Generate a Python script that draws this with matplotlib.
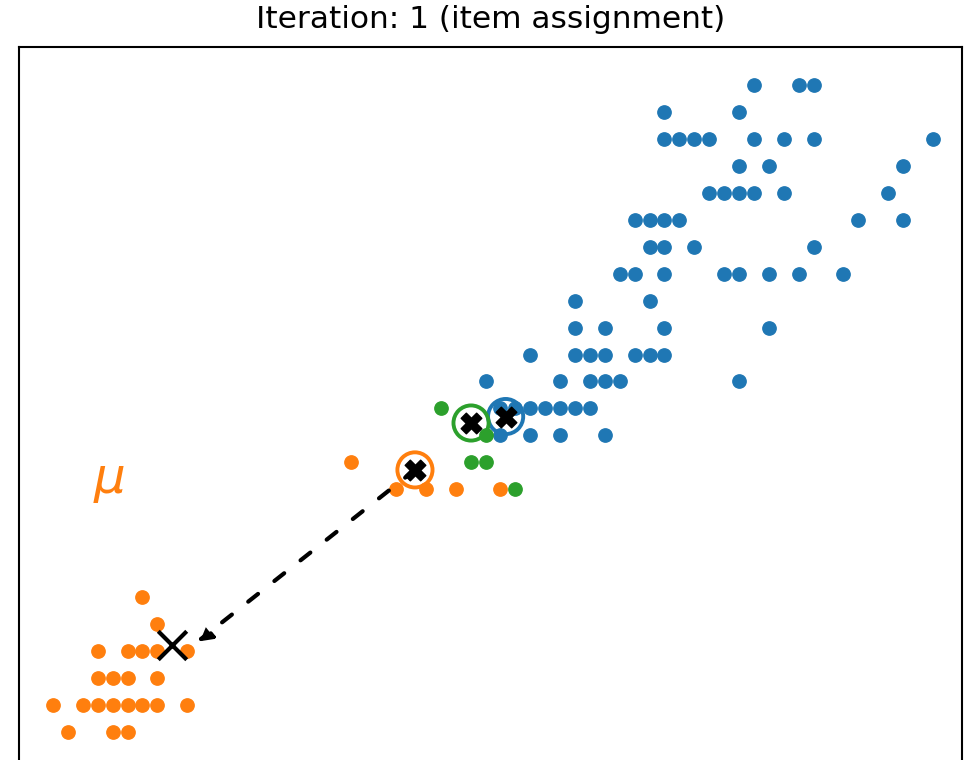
import matplotlib.pyplot as plt

# petal length / petal width of the iris samples, grouped by current cluster
blue_x = [5.7, 6.0, 6.1,
          5.1, 5.6,
          5.1, 5.2, 5.3, 5.4, 5.7, 5.9, 6.1, 6.9,
          5.6, 5.8, 6.7,
          5.4, 5.5, 5.6, 5.7, 5.9, 6.6,
          4.9, 5.0, 5.1, 5.2, 6.4, 6.7,
          5.0, 5.1, 5.3, 6.1,
          4.8, 4.9, 5.1, 5.5, 5.6, 5.8, 6.0, 6.3,
          4.5, 5.0,
          4.5, 4.7, 5.1, 5.8,
          4.2, 4.5, 4.6, 4.7, 4.9, 5.0, 5.1,
          3.9, 4.4, 4.6, 4.7, 4.8, 5.6,
          4.0, 4.1, 4.2, 4.3, 4.4, 4.5, 4.6,
          4.0, 4.2, 4.4, 4.7]
blue_y = [2.5] * 3 + [2.4] * 2 + [2.3] * 8 + [2.2] * 3 + [2.1] * 6 + \
         [2.0] * 6 + [1.9] * 4 + [1.8] * 8 + [1.7] * 2 + [1.6] * 4 + \
         [1.5] * 7 + [1.4] * 6 + [1.3] * 7 + [1.2] * 4

green_x = [3.6, 3.9, 3.8, 3.9, 4.1]
green_y = [1.3, 1.2, 1.1, 1.1, 1.0]

orange_x = [3.0,
            3.3, 3.5, 3.7, 4.0,
            1.6,
            1.7,
            1.3, 1.5, 1.6, 1.7, 1.9,
            1.3, 1.4, 1.5, 1.7,
            1.0, 1.2, 1.3, 1.4, 1.5, 1.6, 1.7, 1.9,
            1.1, 1.4, 1.5]
orange_y = [1.1] + [1.0] * 4 + [0.6] + [0.5] + [0.4] * 5 + [0.3] * 4 + \
           [0.2] * 8 + [0.1] * 3

# centroids: blue, green, orange
cent_x = [4.035, 3.803, 3.427]
cent_y = [1.270, 1.246, 1.072]
cent_colors = ['tab:blue', 'tab:green', 'tab:orange']

# where the orange centroid is heading
old_x, old_y = 1.80, 0.423
arrow_end = (1.97, 0.435)

fig = plt.figure(figsize=(9.7, 7.6), dpi=100)
ax = fig.add_axes([19 / 970, 1 - 771 / 760, (962.3 - 19) / 970, (771 - 46.7) / 760])

ax.scatter(blue_x, blue_y, s=92, color='tab:blue', zorder=2)
ax.scatter(orange_x, orange_y, s=92, color='tab:orange', zorder=2)
ax.scatter(green_x, green_y, s=92, color='tab:green', zorder=2)

# circled centroids
for cx, cy, c in zip(cent_x, cent_y, cent_colors):
    ax.scatter([cx], [cy], s=640, facecolors='none', edgecolors=c, linewidths=2.8, zorder=3)
ax.scatter(cent_x, cent_y, s=220, marker='X', color='black', zorder=4)

# move of the orange centroid
ax.annotate('', xy=arrow_end, xytext=(cent_x[2], cent_y[2]),
            arrowprops=dict(arrowstyle='-|>,head_length=0.8,head_width=0.45', color='black',
                            lw=3, linestyle=(0, (3, 5)), shrinkA=0, shrinkB=0),
            zorder=5)
ax.scatter([old_x], [old_y], s=420, marker='x', color='black', linewidths=3, zorder=5)
ax.text(1.38, 1.04, 'μ', color='tab:orange', fontsize=36, fontstyle='italic',
        ha='center', va='center')

ax.set_xlim(0.772, 7.097)
ax.set_ylim(-0.045, 2.642)
ax.set_xticks([])
ax.set_yticks([])
for sp in ax.spines.values():
    sp.set_linewidth(1.5)

ax.set_title('Iteration: 1 (item assignment)', fontsize=22.5, pad=13.5)

plt.savefig('out.png', dpi=100)
